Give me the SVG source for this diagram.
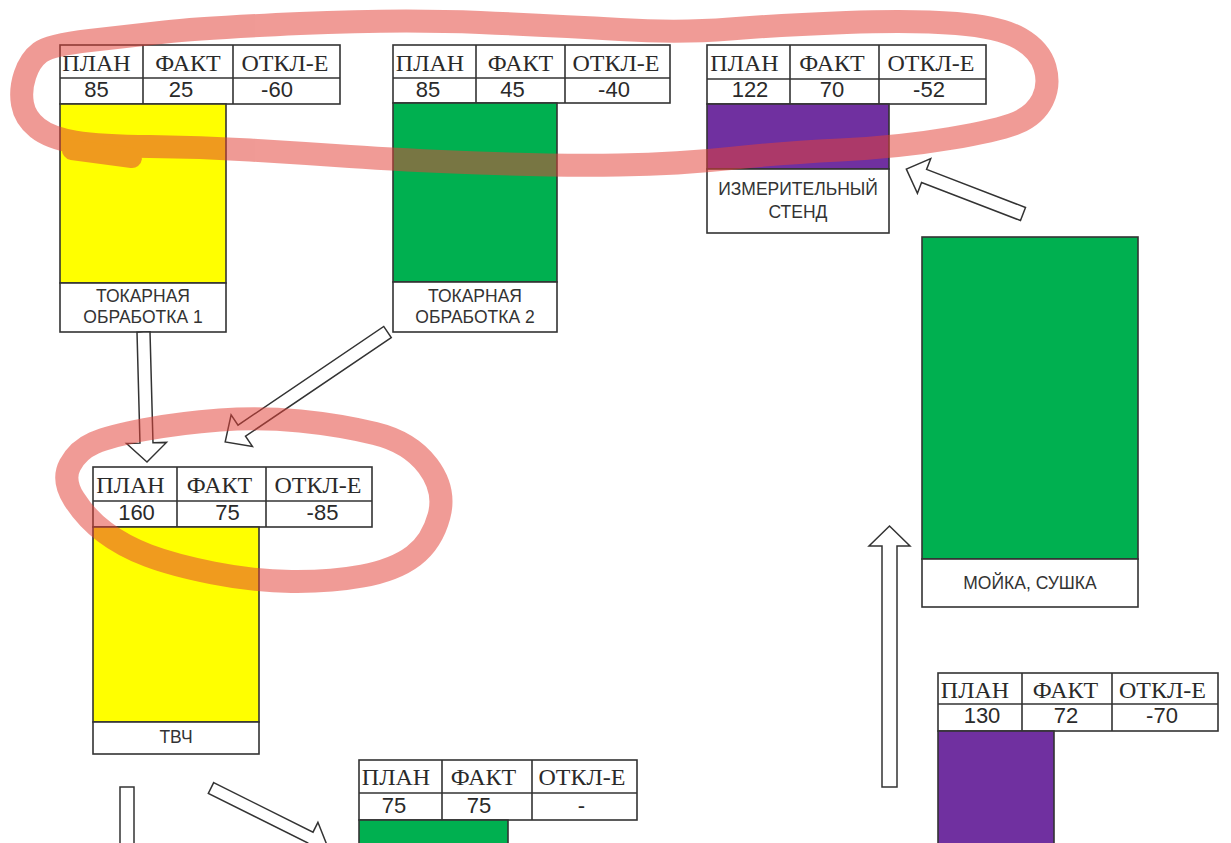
<svg xmlns="http://www.w3.org/2000/svg" width="1231" height="843" viewBox="0 0 1231 843">
  <style>
    .cell { fill: #ffffff; stroke: #333333; stroke-width: 1.6; }
    .grid { stroke: #333333; stroke-width: 1.6; }
    .bar { stroke: #333333; stroke-width: 1.6; }
    .yellow { fill: #ffff00; }
    .green { fill: #00b050; }
    .purple { fill: #7030a0; }
    .hdr { font-family: "Liberation Serif", "Times New Roman", serif; font-size: 24px; fill: #2a2a2a; text-anchor: middle; }
    .val { font-family: "Liberation Sans", Arial, sans-serif; font-size: 22px; fill: #2a2a2a; text-anchor: middle; }
    .lbl { font-family: "Liberation Sans", Arial, sans-serif; font-size: 17.5px; fill: #333333; text-anchor: middle; }
    .arrow { fill: #ffffff; stroke: #333333; stroke-width: 1.5; stroke-linejoin: miter; }
  </style>

  <rect width="1231" height="843" fill="#ffffff"/>

  <!-- ТОКАРНАЯ ОБРАБОТКА 1 -->
  <g id="node-tokarnaya-1">
    <rect class="cell" x="60" y="45" width="280" height="59"/>
    <line class="grid" x1="60" y1="78" x2="340" y2="78"/>
    <line class="grid" x1="143" y1="45" x2="143" y2="104"/>
    <line class="grid" x1="233" y1="45" x2="233" y2="104"/>
    <text class="hdr" x="96.5" y="71">ПЛАН</text>
    <text class="hdr" x="188" y="71">ФАКТ</text>
    <text class="hdr" x="285" y="71">ОТКЛ-Е</text>
    <text class="val" x="96.5" y="97">85</text>
    <text class="val" x="181" y="97">25</text>
    <text class="val" x="277" y="97">-60</text>
    <rect class="bar yellow" x="60" y="104" width="166" height="179"/>
    <rect class="cell" x="60" y="283" width="166" height="49"/>
    <text class="lbl" x="143" y="302">ТОКАРНАЯ</text>
    <text class="lbl" x="143" y="323">ОБРАБОТКА 1</text>
  </g>

  <!-- ТОКАРНАЯ ОБРАБОТКА 2 -->
  <g id="node-tokarnaya-2">
    <rect class="cell" x="393" y="45" width="277" height="58"/>
    <line class="grid" x1="393" y1="78" x2="670" y2="78"/>
    <line class="grid" x1="476" y1="45" x2="476" y2="103"/>
    <line class="grid" x1="565" y1="45" x2="565" y2="103"/>
    <text class="hdr" x="430" y="71">ПЛАН</text>
    <text class="hdr" x="520.5" y="71">ФАКТ</text>
    <text class="hdr" x="616" y="71">ОТКЛ-Е</text>
    <text class="val" x="428" y="97">85</text>
    <text class="val" x="512.5" y="97">45</text>
    <text class="val" x="614" y="97">-40</text>
    <rect class="bar green" x="393" y="103" width="164" height="179"/>
    <rect class="cell" x="393" y="282" width="164" height="50"/>
    <text class="lbl" x="475" y="302">ТОКАРНАЯ</text>
    <text class="lbl" x="475" y="323">ОБРАБОТКА 2</text>
  </g>

  <!-- ИЗМЕРИТЕЛЬНЫЙ СТЕНД -->
  <g id="node-izmeritelny-stend">
    <rect class="cell" x="707" y="45" width="279" height="59"/>
    <line class="grid" x1="707" y1="79" x2="986" y2="79"/>
    <line class="grid" x1="790" y1="45" x2="790" y2="104"/>
    <line class="grid" x1="879" y1="45" x2="879" y2="104"/>
    <text class="hdr" x="744.5" y="71">ПЛАН</text>
    <text class="hdr" x="832" y="71">ФАКТ</text>
    <text class="hdr" x="931" y="71">ОТКЛ-Е</text>
    <text class="val" x="750" y="97">122</text>
    <text class="val" x="832" y="97">70</text>
    <text class="val" x="929" y="97">-52</text>
    <rect class="bar purple" x="707" y="104" width="182" height="65"/>
    <rect class="cell" x="707" y="169" width="182" height="64"/>
    <text class="lbl" x="798" y="195">ИЗМЕРИТЕЛЬНЫЙ</text>
    <text class="lbl" x="798" y="218">СТЕНД</text>
  </g>

  <!-- МОЙКА, СУШКА -->
  <g id="node-moyka-sushka">
    <rect class="bar green" x="922" y="237" width="216" height="322"/>
    <rect class="cell" x="922" y="559" width="216" height="48"/>
    <text class="lbl" x="1030" y="589">МОЙКА, СУШКА</text>
  </g>

  <!-- ТВЧ -->
  <g id="node-tvch">
    <rect class="cell" x="93" y="467" width="279" height="60"/>
    <line class="grid" x1="93" y1="501" x2="372" y2="501"/>
    <line class="grid" x1="177" y1="467" x2="177" y2="527"/>
    <line class="grid" x1="266" y1="467" x2="266" y2="527"/>
    <text class="hdr" x="130.5" y="493">ПЛАН</text>
    <text class="hdr" x="219.5" y="493">ФАКТ</text>
    <text class="hdr" x="318" y="493">ОТКЛ-Е</text>
    <text class="val" x="136.5" y="520">160</text>
    <text class="val" x="227.5" y="520">75</text>
    <text class="val" x="322.5" y="520">-85</text>
    <rect class="bar yellow" x="93" y="527" width="166" height="195"/>
    <rect class="cell" x="93" y="722" width="166" height="32"/>
    <text class="lbl" x="176" y="743">ТВЧ</text>
  </g>

  <!-- lower middle station -->
  <g id="node-station-5">
    <rect class="cell" x="359" y="760" width="278" height="60"/>
    <line class="grid" x1="359" y1="793" x2="637" y2="793"/>
    <line class="grid" x1="442" y1="760" x2="442" y2="820"/>
    <line class="grid" x1="532" y1="760" x2="532" y2="820"/>
    <text class="hdr" x="396" y="785">ПЛАН</text>
    <text class="hdr" x="483.5" y="785">ФАКТ</text>
    <text class="hdr" x="582" y="785">ОТКЛ-Е</text>
    <text class="val" x="394" y="813">75</text>
    <text class="val" x="479" y="813">75</text>
    <text class="val" x="581.5" y="813">-</text>
    <rect class="bar green" x="359" y="820" width="149" height="40"/>
  </g>

  <!-- lower right station -->
  <g id="node-station-6">
    <rect class="cell" x="938" y="673" width="280" height="58"/>
    <line class="grid" x1="938" y1="704" x2="1218" y2="704"/>
    <line class="grid" x1="1022" y1="673" x2="1022" y2="731"/>
    <line class="grid" x1="1112" y1="673" x2="1112" y2="731"/>
    <text class="hdr" x="975" y="698">ПЛАН</text>
    <text class="hdr" x="1065.5" y="698">ФАКТ</text>
    <text class="hdr" x="1162.5" y="698">ОТКЛ-Е</text>
    <text class="val" x="982" y="723">130</text>
    <text class="val" x="1066" y="723">72</text>
    <text class="val" x="1162" y="723">-70</text>
    <rect class="bar purple" x="938" y="731" width="116" height="130"/>
  </g>

  <!-- block arrows between stations -->
  <g id="connectors">
    <polygon class="arrow" transform="translate(143.5,332) rotate(88.46)" points="0,-6.5 111,-6.5 111,-20 130,0 111,20 111,6.5 0,6.5"/>
    <polygon class="arrow" transform="translate(387.5,332) rotate(145.9)" points="0,-6.7 176,-6.7 176,-19 196,0 176,19 176,6.7 0,6.7"/>
    <polygon class="arrow" transform="translate(1023,214) rotate(-158.96)" points="0,-7 106,-7 106,-18.5 125,0 106,18.5 106,7 0,7"/>
    <polygon class="arrow" transform="translate(889.5,787) rotate(-90)" points="0,-7.5 241,-7.5 241,-20.5 261,0 241,20.5 241,7.5 0,7.5"/>
    <polygon class="arrow" transform="translate(127,787) rotate(90)" points="0,-7 80,-7 80,-20 100,0 80,20 80,7 0,7"/>
    <polygon class="arrow" transform="translate(211,788) rotate(26.5)" points="0,-6 111,-6 111,-17 130,0 111,17 111,6 0,6"/>
  </g>

  <!-- hand-drawn marker loops -->
  <g id="marker" opacity="0.53" fill="none" stroke="#e24239" stroke-width="23" stroke-linejoin="round" stroke-linecap="round">
    <path d="M 90,40.5 Q 130,36 165,32 Q 200,28 300,23.5 Q 400,19 480,22.5 Q 560,26 620,29.5 Q 680,33 730,29 Q 780,25 846.5,22.5 Q 913,20 956.5,23.5 Q 1000,27 1020,38.5 Q 1040,50 1045,67.5 Q 1050,85 1042.5,100 Q 1035,115 1017.5,122.5 Q 1000,130 950,138.5 Q 900,147 840,150 Q 780,153 730,158.5 Q 680,164 618.5,165 Q 557,166 478.5,163 Q 400,160 350,156.5 Q 300,153 250,150 Q 200,147 150,146.5 Q 100,146 75,142 Q 50,138 37.5,128 Q 25,118 22.5,104 Q 20,90 25,75 Q 30,60 40,52.5 Q 50,45 90,40.5 Z"/>
    <path d="M 72,150 L 132,158" stroke-width="20"/>
    <path d="M 145,429.5 Q 180,423 220,420 Q 260,417 300,421 Q 340,425 375,433.5 Q 410,442 428,466 Q 446,490 439,516 Q 432,542 413.5,556 Q 395,570 362.5,576 Q 330,582 291.5,581.5 Q 253,581 213,573 Q 173,565 148,555.5 Q 123,546 104.5,532 Q 86,518 74,499 Q 62,480 70,465 Q 78,450 94,443 Q 110,436 145,429.5 Z"/>
  </g>
</svg>
